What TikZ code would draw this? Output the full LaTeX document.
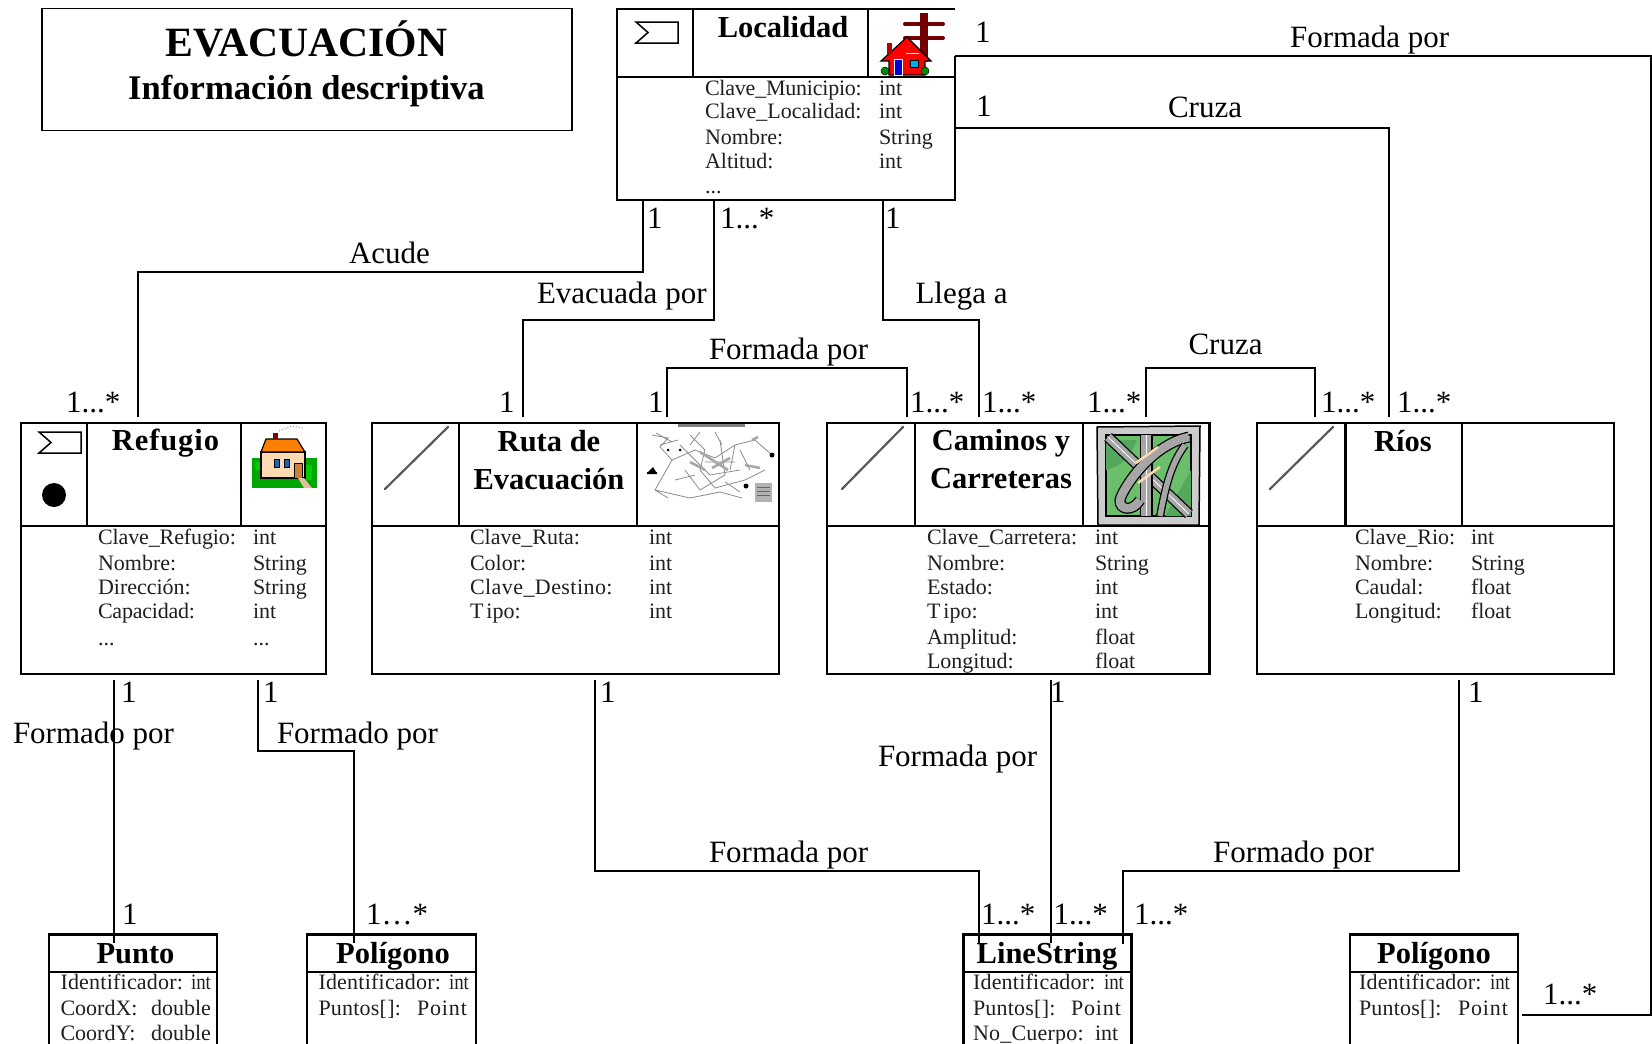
\documentclass[tikz,border=0pt]{standalone}
\usepackage{fontspec}
\setmainfont{Liberation Serif}
\newcounter{tn}
\definecolor{roadgreen}{rgb}{0.42,0.75,0.42}
\definecolor{roadgreend}{rgb}{0.33,0.66,0.36}
\newcommand{\wide}[2]{{\addfontfeature{LetterSpace=#1}#2}}
\tikzset{
 box/.style={draw=black,line width=2.9pt,rectangle,inner sep=0pt,outer sep=0pt,anchor=north west},
 hline/.style={draw=black,line width=2.9pt},
 conn/.style={draw=black,line width=2pt,line join=miter},
 attr/.style={anchor=base west,inner sep=0pt,outer sep=0pt,font=\fontsize{22}{22}\selectfont,text=black!88},
 lab/.style={anchor=base west,inner sep=0pt,outer sep=0pt,font=\fontsize{31}{31}\selectfont},
 ttl/.style={anchor=base,inner sep=0pt,outer sep=0pt,font=\fontsize{30.5}{30}\selectfont\bfseries},
 sig/.style={draw=black,line width=1.5pt,fill=white},
 diag/.style={draw=black!65,line width=2.2pt,line cap=round},
 mapl/.style={draw=black!45,line width=0.8pt},
}
\newcommand{\TA}[3]{\stepcounter{tn}\node[attr] (a\arabic{tn}) at (#1,#2) {#3};}
\newcommand{\TI}[2]{\stepcounter{tn}\node[attr,xscale=.86] (a\arabic{tn}) at (#1,#2) {int};}
\newcommand{\TL}[3]{\stepcounter{tn}\node[lab] (l\arabic{tn}) at (#1,#2) {#3};}
\newcommand{\TT}[3]{\stepcounter{tn}\node[ttl] (t\arabic{tn}) at (#1,#2) {#3};}
\newcommand{\sigicon}[2]{\draw[sig] (#1,#2) -- ++(42,0) -- ++(0,21) -- ++(-42,0) -- ++(12,-10.5) -- cycle;}
\begin{document}
\begin{tikzpicture}[x=1pt,y=-1pt]
\useasboundingbox (0,0) rectangle (1652,1044);
\fill[white] (0,0) rectangle (1652,1044);
% title
\node[box,line width=1.8pt,minimum width=530pt,minimum height=122pt] (title) at (42,8.5) {};
\stepcounter{tn}\node[anchor=base,inner sep=0pt,font=\fontsize{41.7}{42}\selectfont\bfseries] (ttA) at (306.5,56) {EVACUACIÓN};
\stepcounter{tn}\node[anchor=base,inner sep=0pt,font=\fontsize{34.6}{35}\selectfont\bfseries] (ttB) at (306.5,99) {Información descriptiva};
% class boxes
\node[box,minimum width=338pt,minimum height=123pt] (localidad) at (617,77) {};
\draw[hline] (617,77) -- (617,9) -- (955,9);
\draw[hline] (693,9) -- (693,77) (868,9) -- (868,77);
\node[box,minimum width=305pt,minimum height=251pt] (refugio) at (21,423) {};
\draw[hline] (21,526) -- (326,526) (87,423) -- (87,526) (241,423) -- (241,526);
\node[box,minimum width=407pt,minimum height=251pt] (ruta) at (372,423) {};
\draw[hline] (372,526) -- (779,526) (459,423) -- (459,526) (637,423) -- (637,526);
\node[box,minimum width=382.5pt,minimum height=251pt] (caminos) at (827,423) {};
\draw[hline] (827,526) -- (1209.5,526) (915,423) -- (915,526) (1083,423) -- (1083,526);
\node[box,minimum width=357pt,minimum height=251pt] (rios) at (1257,423) {};
\draw[hline] (1257,526) -- (1614,526) (1345.5,423) -- (1345.5,526) (1462,423) -- (1462,526);
% bottom boxes, cut by the page edge
\node[box,minimum width=168pt,minimum height=120pt] (punto) at (49,934.5) {};
\draw[hline] (49,972) -- (217,972);
\node[box,minimum width=169pt,minimum height=120pt] (poli) at (307,934.5) {};
\draw[hline] (307,972) -- (476,972);
\node[box,minimum width=168pt,minimum height=120pt] (line) at (963.5,934.5) {};
\draw[hline] (963.5,972) -- (1131.5,972);
\node[box,minimum width=168pt,minimum height=120pt] (polib) at (1350,934.5) {};
\draw[hline] (1350,972) -- (1518,972);
% ports
\coordinate (p1) at (643,200); \coordinate (p1e) at (138,417);
\coordinate (p2) at (714,200); \coordinate (p2e) at (522.5,417);
\coordinate (p3) at (883,200); \coordinate (p3e) at (978.5,417);
\coordinate (p4) at (667,417); \coordinate (p4e) at (907,417);
\coordinate (p5) at (1146,417); \coordinate (p5e) at (1315,417);
\coordinate (p6) at (955,128); \coordinate (p6e) at (1388.5,417);
\coordinate (p7) at (955,56); \coordinate (p7e) at (1522,1015);
\coordinate (p8) at (114,680); \coordinate (p8e) at (114,943);
\coordinate (p9) at (258,680); \coordinate (p9e) at (354,943);
\coordinate (p10) at (595,680); \coordinate (p10e) at (978.5,943);
\coordinate (p11) at (1050.5,680); \coordinate (p11e) at (1050.5,943);
\coordinate (p12) at (1459,680); \coordinate (p12e) at (1122.5,944);
% connectors
\draw[conn] (p1) -- (643,272) -| (p1e);
\draw[conn] (p2) -- (714,320) -| (p2e);
\draw[conn] (p3) -- (883,320) -| (p3e);
\draw[conn] (p4) |- (787,368) -| (p4e);
\draw[conn] (p5) |- (1230,368) -| (p5e);
\draw[conn] (p6) -| (p6e);
\draw[conn] (p7) -- (1650.5,56) |- (p7e);
\draw[hline] (955,56) -- (955,77);
\draw[conn] (p8) -- (p8e);
\draw[conn] (p9) -- (258,751) -| (p9e);
\draw[conn] (p10) -- (595,871) -| (p10e);
\draw[conn] (p11) -- (p11e);
\draw[conn] (p12) -- (1459,871) -| (p12e);
% connector labels
\TL{975}{42}{1} \TL{1290}{47}{Formada por}
\TL{976}{116}{1} \TL{1168}{117}{Cruza}
\TL{647}{228}{1} \TL{720}{228}{1...*} \TL{885}{228}{1}
\TL{349}{263}{Acude} \TL{537}{303}{Evacuada por} \TL{915.5}{303}{Llega a}
\TL{709}{359}{Formada por} \TL{1188.5}{354}{Cruza}
\TL{66}{412}{1...*} \TL{499}{412}{1} \TL{648}{412}{1}
\TL{910}{412}{1...*} \TL{982}{412}{1...*} \TL{1087}{412}{1...*}
\TL{1321}{412}{1...*} \TL{1397}{412}{1...*}
\TL{121}{702}{1} \TL{263}{702}{1} \TL{600}{702}{1} \TL{1050}{702}{1} \TL{1468}{702}{1}
\TL{13}{743}{Formado por} \TL{277}{743}{Formado por}
\TL{878}{766}{Formada por} \TL{709}{862}{Formada por} \TL{1213}{862}{Formado por}
\TL{122}{924}{1} \TL{366}{924}{1…*}
\TL{981}{924}{1...*} \TL{1053.5}{924}{1...*} \TL{1134}{924}{1...*}
\TL{1543}{1004}{1...*}
% class titles
\TT{783}{37}{Localidad}
\TT{165.5}{450}{\wide{3}{Refugio}}
\TT{549}{451}{Ruta de} \TT{549}{489}{Evacuación}
\TT{1001}{450}{Caminos y} \TT{1001}{488}{Carreteras}
\TT{1403}{451}{Ríos}
\TT{135.5}{963}{Punto} \TT{393}{963}{Polígono}
\TT{1047}{963}{LineString} \TT{1434}{963}{Polígono}
% attributes
\TA{705}{95}{\wide{-1}{Clave\_Municipio:}} \TA{879}{95}{int}
\TA{705}{118}{Clave\_Localidad:} \TA{879}{118}{int}
\TA{705}{144}{Nombre:} \TA{879}{144}{String}
\TA{705}{168}{Altitud:} \TA{879}{168}{int}
\TA{705}{193}{...}
\TA{98}{544}{\wide{-.5}{Clave\_Refugio:}} \TA{253}{544}{int}
\TA{98}{570}{Nombre:} \TA{253}{570}{String}
\TA{98}{594}{Dirección:} \TA{253}{594}{String}
\TA{98}{618}{\wide{-1}{Capacidad:}} \TA{253}{618}{int}
\TA{98}{645}{...} \TA{253}{645}{...}
\TA{470}{544}{Clave\_Ruta:} \TA{649}{544}{int}
\TA{470}{570}{Color:} \TA{649}{570}{int}
\TA{470}{594}{\wide{2}{Clave\_Destino:}} \TA{649}{594}{int}
\TA{470}{618}{T\kern3pt ipo:} \TA{649}{618}{int}
\TA{927}{544}{Clave\_Carretera:} \TA{1095}{544}{int}
\TA{927}{570}{Nombre:} \TA{1095}{570}{String}
\TA{927}{594}{Estado:} \TA{1095}{594}{int}
\TA{927}{618}{T\kern3pt ipo:} \TA{1095}{618}{int}
\TA{927}{644}{Amplitud:} \TA{1095}{644}{float}
\TA{927}{668}{Longitud:} \TA{1095}{668}{float}
\TA{1355}{544}{Clave\_Rio:} \TA{1471}{544}{int}
\TA{1355}{570}{Nombre:} \TA{1471}{570}{String}
\TA{1355}{594}{Caudal:} \TA{1471}{594}{float}
\TA{1355}{618}{Longitud:} \TA{1471}{618}{float}
\TA{60.5}{989}{\wide{1}{Identificador:}} \TI{191}{989}
\TA{60.5}{1015}{CoordX:} \TA{151}{1015}{double}
\TA{60.5}{1040}{CoordY:} \TA{151}{1040}{double}
\TA{318.5}{989}{\wide{1}{Identificador:}} \TI{449}{989}
\TA{318.5}{1015}{\wide{1}{Puntos[]:}} \TA{417}{1015}{\wide{4}{Point}}
\TA{973}{989}{\wide{1}{Identificador:}} \TI{1104}{989}
\TA{973}{1015}{\wide{1}{Puntos[]:}} \TA{1071}{1015}{\wide{4}{Point}}
\TA{973}{1040}{\wide{1}{No\_Cuerpo:}} \TA{1095}{1040}{int}
\TA{1359}{989}{\wide{1}{Identificador:}} \TI{1490}{989}
\TA{1359}{1015}{\wide{1}{Puntos[]:}} \TA{1458}{1015}{\wide{4}{Point}}
% symbols
\sigicon{636}{22}
\sigicon{39}{432}
\fill[black] (54,495) circle (12);
\draw[diag] (385,489) -- (448,427);
\draw[diag] (842,489) -- (903,427);
\draw[diag] (1270,489) -- (1333,427);
% Localidad icon
\fill[red!45!black] (920,13) rectangle (928,62);
\draw[red!45!black,line width=4pt,line cap=round] (905,24) -- (943,24) (905,38) -- (943,38);
\fill[red,draw=black,line width=1.2pt] (881,61) -- (907,37) -- (931,61) -- (925,61) -- (925,75) -- (889,75) -- (889,61) -- cycle;
\fill[red!70!black] (887,43) rectangle (892,54);
\draw[white,line width=1pt] (906,53) -- (919,53);
\fill[blue!85!black,draw=white,line width=.6pt] (894,59) rectangle (902,75);
\fill[cyan,draw=black,line width=1pt] (910,60) rectangle (918,67);
\fill[green!55!black,draw=black,line width=.5pt] (885,71) circle (4) (925,71) circle (4);
% Refugio icon
\fill[green!65!black] (252,458) rectangle (317,488);
\fill[green!80!black] (255,462) rectangle (262,470) (300,465) rectangle (312,480);
\fill[orange!30!white,draw=black,line width=1.2pt] (261,452) -- (305,452) -- (305,478) -- (261,478) -- cycle;
\fill[orange,draw=black,line width=1.2pt] (266,439) -- (297,439) -- (305,452) -- (261,452) -- cycle;
\fill[red!50!black] (273,433) rectangle (278,439);
\fill[cyan!40!blue,draw=black,line width=.8pt] (274,459) rectangle (279,467) (284,459) rectangle (289,467);
\fill[brown!80!orange,draw=black,line width=.8pt] (294,463) rectangle (302,478);
\fill[brown!50!white] (298,478) -- (304,478) -- (312,488) -- (304,488) -- cycle;
\draw[black!40,line width=1pt,dotted] (279,431) -- (292,426) -- (303,428);
% map icon
\draw[black!50,line width=3pt] (678,425) -- (745,425);
\draw[mapl] (652,435) -- (668,438) -- (660,447) -- (672,460) -- (695,450) -- (715,458) -- (735,445) -- (755,440) -- (772,455);
\draw[mapl] (672,460) -- (655,490) -- (668,498) (655,490) -- (690,498) -- (720,492) -- (742,498);
\draw[mapl] (690,435) -- (705,450) -- (700,470) -- (715,488) -- (745,480) -- (765,470);
\draw[mapl] (680,445) -- (710,475) -- (740,470) (720,440) -- (725,475) -- (700,490) (735,445) -- (730,470) (705,462) -- (735,462);
\draw[mapl] (656,433) -- (672,442) (660,445) -- (678,440) (685,470) -- (700,490) (740,450) -- (750,470) (675,480) -- (695,475) (725,482) -- (740,492) (690,445) -- (700,432) (715,432) -- (722,445);
\draw[black!35,line width=2.5pt] (700,452) -- (728,470) (712,468) -- (730,458) (745,465) -- (760,468) (758,437) -- (752,440) (690,462) -- (705,470);
\fill[black] (653,467) -- (648,472) -- (656,472) -- cycle (647,472) rectangle (657,474);
\fill[black] (772,455) circle (2.5) (746,486) circle (2.5) (680,450) circle (1.5) (668,450) circle (1.5);
\fill[black!30] (755,483) rectangle (772,502);
\draw[black!60,line width=1pt] (757,487) -- (770,487) (757,491) -- (770,491) (757,495) -- (770,495);
% roads icon
\fill[black!20,draw=black,line width=1.5pt] (1097,427) -- (1200,426) -- (1199,525) -- (1098,525) -- cycle;
\fill[roadgreen,draw=black,line width=2pt] (1106,435) rectangle (1191,516);
\fill[roadgreend] (1106,470) .. controls (1125,465) and (1130,455) .. (1137,440) -- (1106,440) -- cycle;
\fill[roadgreend] (1165,516) -- (1191,470) -- (1191,516) -- cycle;
\draw[black,line width=11pt] (1108,437) -- (1189,514);
\draw[black!35,line width=8.5pt] (1108,437) -- (1189,514);
\draw[white,line width=.8pt] (1108,437) -- (1189,514);
\draw[black,line width=13pt] (1146,435) -- (1146,516);
\draw[black!35,line width=10.5pt] (1146,435) -- (1146,516);
\draw[white,line width=.8pt] (1146,435) -- (1146,516);
\draw[black,line width=11pt] (1189,437) .. controls (1150,445) and (1122,490) .. (1120,500) .. controls (1119,510) and (1133,512) .. (1140,500);
\draw[black!35,line width=8.5pt] (1189,437) .. controls (1150,445) and (1122,490) .. (1120,500) .. controls (1119,510) and (1133,512) .. (1140,500);
\draw[black,line width=8pt] (1185,445) .. controls (1170,465) and (1165,490) .. (1160,516);
\draw[black!35,line width=5.5pt] (1185,445) .. controls (1170,465) and (1165,490) .. (1160,516);
\draw[orange!30!white,line width=2.5pt] (1136,463) -- (1158,447) (1138,483) -- (1160,467);
\end{tikzpicture}
\end{document}
